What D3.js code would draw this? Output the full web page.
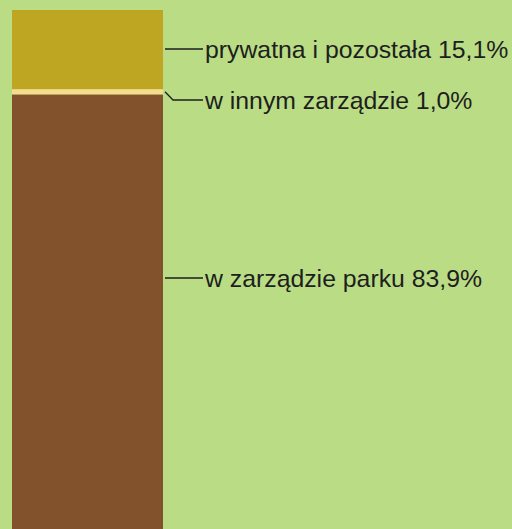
<!DOCTYPE html>
<html>
<head>
<meta charset="utf-8">
<script src="https://cdn.jsdelivr.net/npm/d3@7"></script>
<style>
  body { margin: 0; background: #b9dc84; }
  text { font-family: "Liberation Sans", Arial, sans-serif; }
</style>
</head>
<body>
<div id="chart"></div>
<script>

var categories = ["w zarządzie parku", "w innym zarządzie", "prywatna i pozostała"];
var values = [83.9, 1.0, 15.1];
var valueLabels = ["83,9%", "1,0%", "15,1%"];
var colors = ["#81522b", "#f4dc8e", "#bfa622"];

var width = 512,
    height = 529;

var svg = d3.select("#chart")
    .append("svg")
    .attr("width", width)
    .attr("height", height);

svg.append("rect")
    .attr("width", width)
    .attr("height", height)
    .attr("fill", "#b9dc84");

// stack bottom-up
var stacked = [];
var acc = 0;
values.forEach(function (v, i) {
    stacked.push({ name: categories[i], label: valueLabels[i], y0: acc, y1: acc + v, color: colors[i] });
    acc += v;
});

var yScale = d3.scaleLinear()
    .domain([0, 100])
    .range([534, 10]);

var xScale = d3.scaleBand()
    .domain(["all"])
    .range([12, 163])
    .padding(0);

svg.selectAll(".seg")
    .data(stacked).enter()
    .append("rect")
    .attr("class", "seg")
    .attr("x", xScale("all"))
    .attr("width", xScale.bandwidth())
    .attr("y", function (d) { return yScale(d.y1); })
    .attr("height", function (d) { return yScale(d.y0) - yScale(d.y1); })
    .attr("fill", function (d) { return d.color; });

// label positions (y of text centre); thin segment gets a bent leader
var labelY = [278, 100, 49];
var x0 = xScale.range()[1] + 2;

var labels = svg.selectAll(".lbl")
    .data(stacked).enter()
    .append("g")
    .attr("class", "lbl");

labels.append("path")
    .attr("fill", "none")
    .attr("stroke", "#1e1e1e")
    .attr("stroke-width", 1.3)
    .attr("d", function (d, i) {
        var segH = yScale(d.y0) - yScale(d.y1);
        if (segH > 20) {
            return "M" + x0 + "," + labelY[i] + "H203";
        }
        var mid = yScale((d.y0 + d.y1) / 2);
        return "M" + x0 + "," + mid + "L" + (x0 + 8) + "," + labelY[i] + "H203";
    });

labels.append("text")
    .attr("x", 205)
    .attr("y", function (d, i) { return labelY[i]; })
    .attr("dy", "0.35em")
    .attr("fill", "#1e1e1e")
    .style("font-size", "24.8px")
    .text(function (d) { return d.name + " " + d.label; });

</script>
</body>
</html>
